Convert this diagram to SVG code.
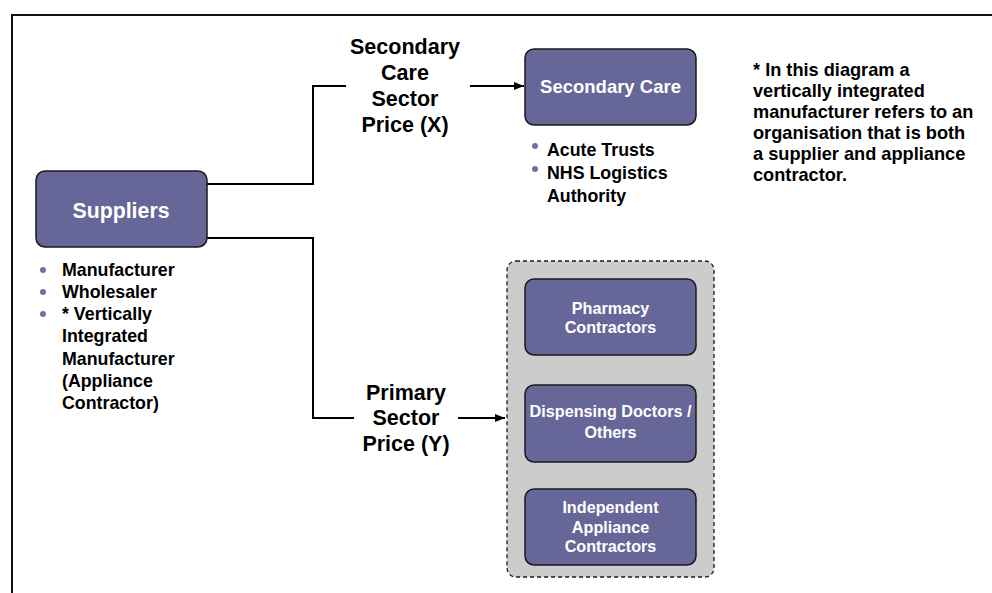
<svg xmlns="http://www.w3.org/2000/svg" width="992" height="593" viewBox="0 0 992 593">
  <style>
    .box { fill: #666699; stroke: #1a1a1a; stroke-width: 1.5; }
    .boxtxt { font-family: "Liberation Sans", Arial, sans-serif; font-weight: bold; fill: #ffffff; text-anchor: middle; }
    .lbl { font-family: "Liberation Sans", Arial, sans-serif; font-weight: bold; fill: #000000; font-size: 21.5px; text-anchor: middle; }
    .bul { font-family: "Liberation Sans", Arial, sans-serif; font-weight: bold; fill: #000000; font-size: 17.8px; }
    .dot { fill: #7070aa; }
    .wire { fill: none; stroke: #000000; stroke-width: 2; }
  </style>
  <defs>
    <marker id="arrow" viewBox="0 0 10 10" refX="10" refY="5" markerWidth="5" markerHeight="5" orient="auto" markerUnits="strokeWidth">
      <path d="M0,1 L10,5 L0,9 z" fill="#000000"/>
    </marker>
  </defs>

  <rect width="992" height="593" fill="#ffffff"/>

  <!-- page frame -->
  <path d="M12,593 V15 H992" fill="none" stroke="#111111" stroke-width="2"/>

  <!-- connectors -->
  <g id="connectors">
    <path class="wire" d="M207,184 H313 V86 H346"/>
    <path class="wire" d="M470,86 H524" marker-end="url(#arrow)"/>
    <path class="wire" d="M207,238 H313 V418 H354"/>
    <path class="wire" d="M458,418 H505" marker-end="url(#arrow)"/>
  </g>

  <!-- suppliers -->
  <g id="suppliers">
    <rect class="box" x="36" y="171" width="171" height="76" rx="9"/>
    <text class="boxtxt" x="121" y="218" font-size="21.3">Suppliers</text>
    <circle class="dot" cx="43" cy="270" r="3"/>
    <circle class="dot" cx="43" cy="292" r="3"/>
    <circle class="dot" cx="43" cy="314" r="3"/>
    <text class="bul" x="62" y="276">Manufacturer</text>
    <text class="bul" x="62" y="298">Wholesaler</text>
    <text class="bul" x="62" y="320">* Vertically</text>
    <text class="bul" x="62" y="342">Integrated</text>
    <text class="bul" x="62" y="365">Manufacturer</text>
    <text class="bul" x="62" y="387">(Appliance</text>
    <text class="bul" x="62" y="409">Contractor)</text>
  </g>

  <!-- price labels -->
  <g id="secondary-price">
    <text class="lbl" x="405" y="54">Secondary</text>
    <text class="lbl" x="405" y="80">Care</text>
    <text class="lbl" x="405" y="106">Sector</text>
    <text class="lbl" x="405" y="132">Price (X)</text>
  </g>
  <g id="primary-price">
    <text class="lbl" x="406" y="400">Primary</text>
    <text class="lbl" x="406" y="425">Sector</text>
    <text class="lbl" x="406" y="451">Price (Y)</text>
  </g>

  <!-- secondary care -->
  <g id="secondary-care">
    <rect class="box" x="525" y="49" width="171" height="76" rx="9"/>
    <text class="boxtxt" x="610.5" y="93" font-size="18.5">Secondary Care</text>
    <circle class="dot" cx="535" cy="146" r="3"/>
    <circle class="dot" cx="535" cy="169" r="3"/>
    <text class="bul" x="547" y="156">Acute Trusts</text>
    <text class="bul" x="547" y="179">NHS Logistics</text>
    <text class="bul" x="547" y="202">Authority</text>
  </g>

  <!-- primary sector group -->
  <g id="primary-sector">
    <rect x="507" y="261" width="207" height="316" rx="9" fill="#cccccc" stroke="#1a1a1a" stroke-width="1.3" stroke-dasharray="4,3"/>
  </g>
  <g id="pharmacy-contractors">
    <rect class="box" x="525" y="279" width="171" height="76" rx="9"/>
    <text class="boxtxt" x="610.5" y="314" font-size="16.2">Pharmacy</text>
    <text class="boxtxt" x="610.5" y="333" font-size="16.2">Contractors</text>
  </g>
  <g id="dispensing-doctors">
    <rect class="box" x="525" y="385" width="171" height="77" rx="9"/>
    <text class="boxtxt" x="610.5" y="417" font-size="16.2">Dispensing Doctors /</text>
    <text class="boxtxt" x="610.5" y="438" font-size="16.2">Others</text>
  </g>
  <g id="independent-appliance-contractors">
    <rect class="box" x="525" y="489" width="171" height="76" rx="9"/>
    <text class="boxtxt" x="610.5" y="513" font-size="16.2">Independent</text>
    <text class="boxtxt" x="610.5" y="533" font-size="16.2">Appliance</text>
    <text class="boxtxt" x="610.5" y="552" font-size="16.2">Contractors</text>
  </g>

  <!-- footnote -->
  <g id="footnote" class="bul" style="font-size:18.2px">
    <text x="753" y="76">* In this diagram a</text>
    <text x="753" y="97">vertically integrated</text>
    <text x="753" y="118">manufacturer refers to an</text>
    <text x="753" y="139">organisation that is both</text>
    <text x="753" y="160">a supplier and appliance</text>
    <text x="753" y="181">contractor.</text>
  </g>
</svg>
